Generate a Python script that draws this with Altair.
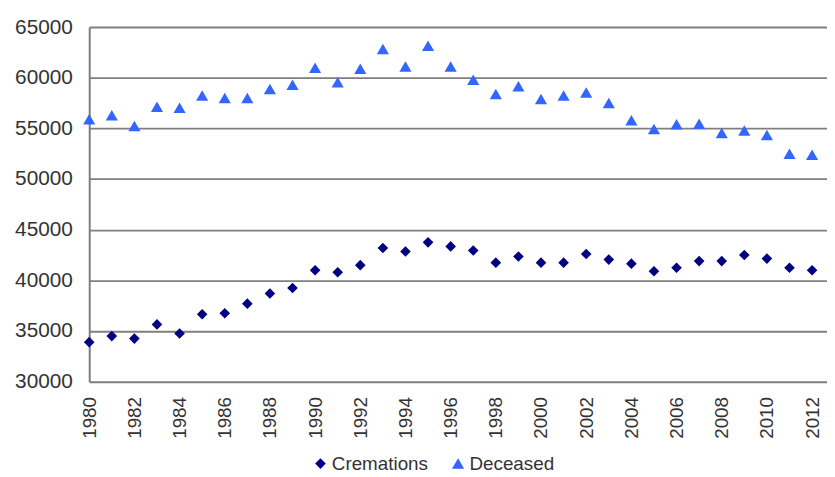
import altair as alt
import pandas as pd

years = list(range(1980, 2013))
cremations = [33900, 34500, 34250, 35650, 34750, 36650, 36750, 37700, 38700, 39250,
              41000, 40800, 41500, 43200, 42850, 43750, 43350, 42950, 41750, 42350,
              41750, 41750, 42600, 42050, 41650, 40900, 41250, 41900, 41900, 42500,
              42150, 41250, 41000]
deceased = [55900, 56300, 55250, 57150, 57050, 58250, 58000, 58000, 58900, 59300,
            61000, 59550, 60900, 62850, 61100, 63150, 61100, 59800, 58400, 59150,
            57900, 58250, 58550, 57500, 55800, 54950, 55400, 55450, 54550, 54800,
            54350, 52500, 52400]
series = ["Cremations", "Deceased"]
x_ticks = list(range(1980, 2013, 2))
y_ticks = list(range(30000, 65001, 5000))

df = pd.DataFrame({
    "Year": years * 2,
    "Value": cremations + deceased,
    "Series": ["Cremations"] * len(years) + ["Deceased"] * len(years),
})

FONT = "Liberation Sans"
GRID = "#7f7f7f"
TEXT = "#333333"

legend = alt.Legend(title=None, orient="none", direction="horizontal",
                    legendX=224, legendY=431, labelFontSize=19,
                    labelFont=FONT, labelColor=TEXT, symbolSize=100,
                    labelOffset=2, columnPadding=20, padding=0,
                    symbolStrokeWidth=0)

chart = alt.Chart(df).mark_point(filled=True, opacity=1, strokeWidth=0).encode(
    x=alt.X("Year:Q",
            scale=alt.Scale(domain=[1980, 2012.66], nice=False, zero=False),
            axis=alt.Axis(values=x_ticks, format="d", labelAngle=270, title=None,
                          grid=False, ticks=False, domain=False, labelPadding=15,
                          labelFontSize=19, labelFont=FONT, labelColor=TEXT,
                          labelOverlap=False)),
    y=alt.Y("Value:Q",
            scale=alt.Scale(domain=[30000, 65000], nice=False, zero=False),
            axis=alt.Axis(values=y_ticks, format="d", title=None, grid=True,
                          gridColor=GRID, gridWidth=2, gridOpacity=1,
                          ticks=False, domain=True, domainColor=GRID, domainWidth=2,
                          labelPadding=17, labelFontSize=21, labelFont=FONT,
                          labelColor=TEXT)),
    color=alt.Color("Series:N",
                    scale=alt.Scale(domain=series, range=["#000080", "#3366FF"]),
                    legend=legend),
    shape=alt.Shape("Series:N",
                    scale=alt.Scale(domain=series, range=["diamond", "triangle-up"]),
                    legend=legend),
    size=alt.Size("Series:N",
                  scale=alt.Scale(domain=series, range=[115, 150]),
                  legend=None),
).properties(
    width=745,
    height=358,
    autosize=alt.AutoSizeParams(type="none"),
    padding={"left": 82, "top": 17, "right": 0, "bottom": 96},
).configure_view(stroke=None).configure(background="white")

chart.save("out.html", embed_options={"renderer": "svg", "actions": False})
